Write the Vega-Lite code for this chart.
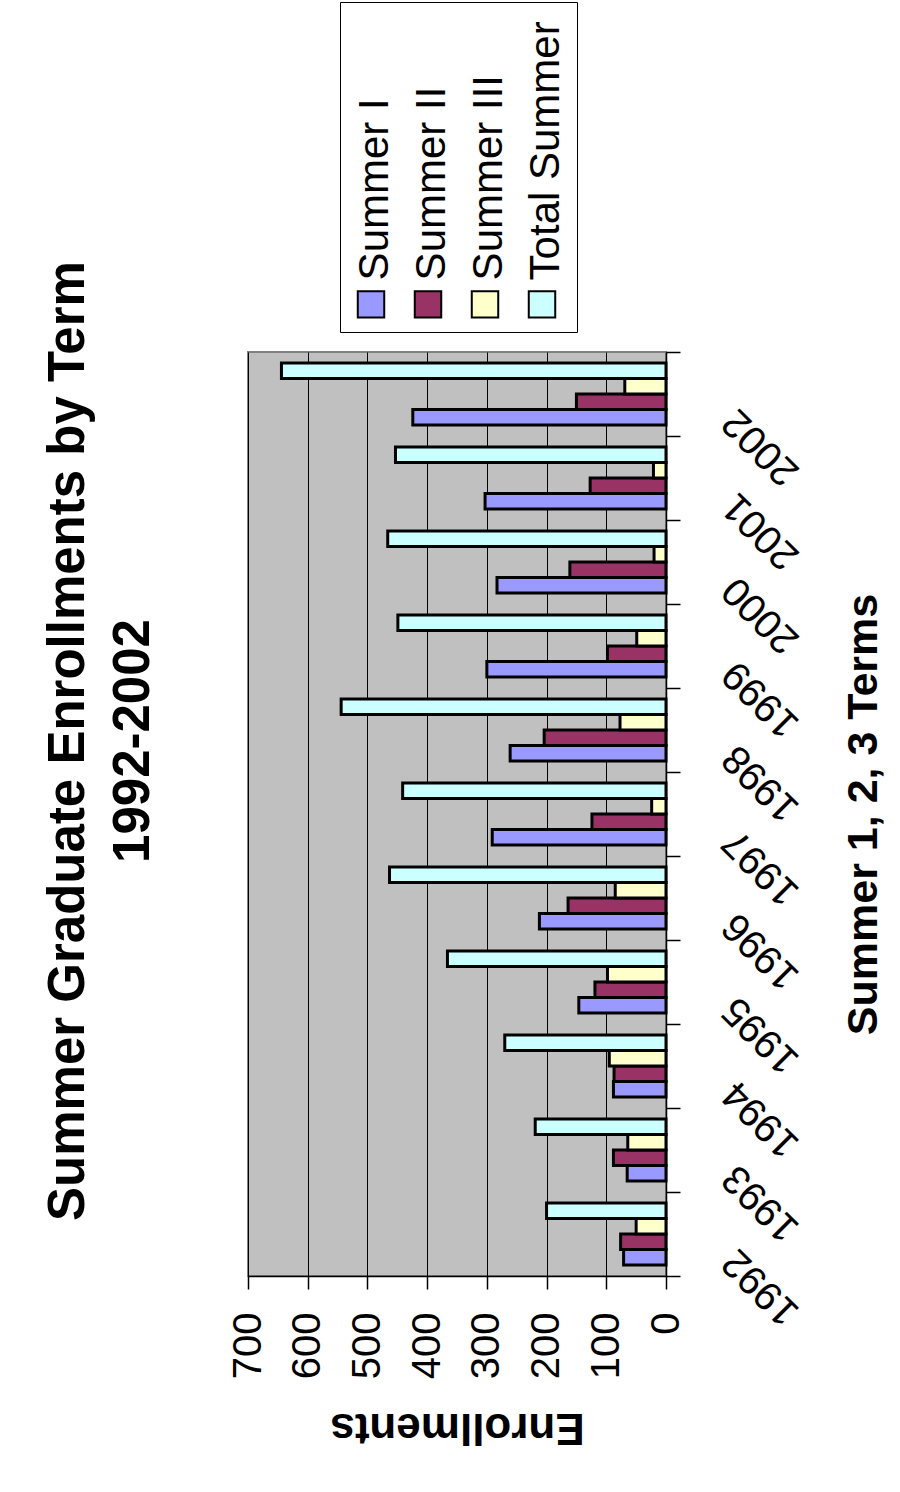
{
  "$schema": "https://vega.github.io/schema/vega-lite/v6.json",
  "width": 418,
  "height": 924,
  "autosize": {"type": "none"},
  "padding": {"left": 248, "top": 352, "right": 234, "bottom": 216},
  "background": "white",
  "title": {
    "text": ["Summer Graduate Enrollments by Term", "1992-2002"],
    "orient": "left",
    "anchor": "middle",
    "angle": -90,
    "baseline": "bottom",
    "lineHeight": 65,
    "font": "Liberation Sans",
    "fontSize": 51,
    "fontWeight": "bold",
    "color": "black",
    "offset": 17,
    "dx": 73
  },
  "data": {
    "values": [
      {"year": 1992, "series": "Summer I", "value": 71},
      {"year": 1992, "series": "Summer II", "value": 76},
      {"year": 1992, "series": "Summer III", "value": 50},
      {"year": 1992, "series": "Total Summer", "value": 200},
      {"year": 1993, "series": "Summer I", "value": 65},
      {"year": 1993, "series": "Summer II", "value": 88},
      {"year": 1993, "series": "Summer III", "value": 64},
      {"year": 1993, "series": "Total Summer", "value": 219},
      {"year": 1994, "series": "Summer I", "value": 88},
      {"year": 1994, "series": "Summer II", "value": 87},
      {"year": 1994, "series": "Summer III", "value": 95},
      {"year": 1994, "series": "Total Summer", "value": 270},
      {"year": 1995, "series": "Summer I", "value": 146},
      {"year": 1995, "series": "Summer II", "value": 119},
      {"year": 1995, "series": "Summer III", "value": 98},
      {"year": 1995, "series": "Total Summer", "value": 366},
      {"year": 1996, "series": "Summer I", "value": 212},
      {"year": 1996, "series": "Summer II", "value": 164},
      {"year": 1996, "series": "Summer III", "value": 85},
      {"year": 1996, "series": "Total Summer", "value": 463},
      {"year": 1997, "series": "Summer I", "value": 291},
      {"year": 1997, "series": "Summer II", "value": 124},
      {"year": 1997, "series": "Summer III", "value": 24},
      {"year": 1997, "series": "Total Summer", "value": 441},
      {"year": 1998, "series": "Summer I", "value": 261},
      {"year": 1998, "series": "Summer II", "value": 204},
      {"year": 1998, "series": "Summer III", "value": 77},
      {"year": 1998, "series": "Total Summer", "value": 544},
      {"year": 1999, "series": "Summer I", "value": 300},
      {"year": 1999, "series": "Summer II", "value": 98},
      {"year": 1999, "series": "Summer III", "value": 49},
      {"year": 1999, "series": "Total Summer", "value": 449},
      {"year": 2000, "series": "Summer I", "value": 283},
      {"year": 2000, "series": "Summer II", "value": 161},
      {"year": 2000, "series": "Summer III", "value": 20},
      {"year": 2000, "series": "Total Summer", "value": 466},
      {"year": 2001, "series": "Summer I", "value": 303},
      {"year": 2001, "series": "Summer II", "value": 127},
      {"year": 2001, "series": "Summer III", "value": 21},
      {"year": 2001, "series": "Total Summer", "value": 453},
      {"year": 2002, "series": "Summer I", "value": 424},
      {"year": 2002, "series": "Summer II", "value": 150},
      {"year": 2002, "series": "Summer III", "value": 69},
      {"year": 2002, "series": "Total Summer", "value": 644}
    ]
  },
  "mark": {"type": "bar", "stroke": "black", "strokeWidth": 3},
  "encoding": {
    "y": {
      "field": "year",
      "type": "ordinal",
      "sort": "descending",
      "scale": {"paddingInner": 0, "paddingOuter": 0},
      "axis": {
        "orient": "right",
        "title": "Summer 1, 2, 3 Terms",
        "titleFont": "Liberation Sans",
        "titleFontSize": 43,
        "titleFontWeight": "bold",
        "titleColor": "black",
        "titleAngle": -90,
        "titleAlign": "center",
        "titleBaseline": "alphabetic",
        "titleX": 210,
        "titleY": 462,
        "tickBand": "extent",
        "tickSize": 14,
        "tickColor": "black",
        "tickWidth": 1.5,
        "domainColor": "black",
        "domainWidth": 1.5,
        "grid": false,
        "labelAngle": 225,
        "labelAlign": "right",
        "labelBaseline": "middle",
        "labelOffset": 21,
        "labelPadding": 49,
        "labelFont": "Liberation Sans",
        "labelFontSize": 40,
        "labelColor": "black"
      }
    },
    "yOffset": {
      "field": "series",
      "sort": ["Total Summer", "Summer III", "Summer II", "Summer I"],
      "scale": {"paddingInner": 0, "paddingOuter": 0.71}
    },
    "x": {
      "field": "value",
      "type": "quantitative",
      "scale": {"domain": [0, 700], "reverse": true, "nice": false},
      "axis": {
        "orient": "bottom",
        "values": [0, 100, 200, 300, 400, 500, 600, 700],
        "title": "Enrollments",
        "titleFont": "Liberation Sans",
        "titleFontSize": 44,
        "titleFontWeight": "bold",
        "titleColor": "black",
        "titleAngle": 180,
        "titleAlign": "center",
        "titleBaseline": "alphabetic",
        "titleX": 209,
        "titleY": 137,
        "grid": true,
        "gridColor": "black",
        "gridWidth": 1,
        "gridOpacity": 1,
        "tickSize": 13,
        "tickColor": "black",
        "tickWidth": 1.5,
        "domainColor": "black",
        "domainWidth": 1.5,
        "labelAngle": -90,
        "labelAlign": "right",
        "labelBaseline": "middle",
        "labelPadding": 23,
        "labelFont": "Liberation Sans",
        "labelFontSize": 40,
        "labelColor": "black"
      }
    },
    "color": {
      "field": "series",
      "type": "nominal",
      "scale": {
        "domain": ["Summer I", "Summer II", "Summer III", "Total Summer"],
        "range": ["#9999FF", "#993366", "#FFFFCC", "#CCFFFF"]
      },
      "legend": {
        "orient": "none",
        "legendX": 92,
        "legendY": -350,
        "direction": "horizontal",
        "title": null,
        "symbolType": "square",
        "symbolSize": 700,
        "symbolStrokeColor": "black",
        "symbolStrokeWidth": 2,
        "symbolOpacity": 1,
        "labelFont": "Liberation Sans",
        "labelFontSize": 42,
        "labelLimit": 0,
        "labelOffset": -17,
        "labelColor": "black",
        "columnPadding": 11,
        "padding": 10,
        "strokeColor": "black",
        "fillColor": "white",
        "encoding": {
          "labels": {"angle": {"value": -90}, "y": {"value": 268}},
          "symbols": {"y": {"value": 292}}
        }
      }
    }
  },
  "config": {
    "view": {"fill": "#C0C0C0", "stroke": "#808080", "strokeWidth": 2}
  }
}
